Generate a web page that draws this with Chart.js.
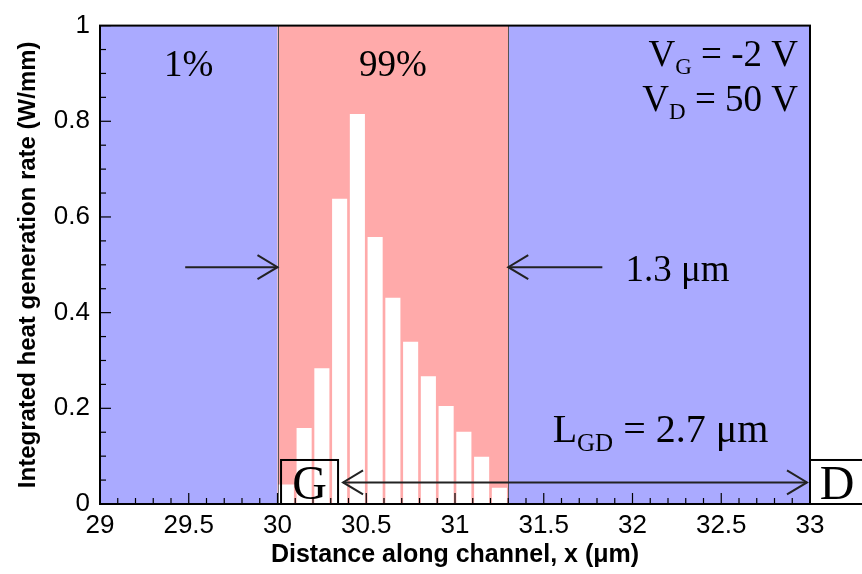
<!DOCTYPE html>
<html>
<head>
<meta charset="utf-8">
<script src="https://cdn.jsdelivr.net/npm/chart.js@4.4.1/dist/chart.umd.min.js"></script>
<style>
    html, body { margin: 0; padding: 0; background: #fff; }
    #wrap { width: 862px; height: 574px; }
</style>
</head>
<body>
<div id="wrap"><canvas id="heat-chart"></canvas></div>
<script>
// === Data ===
// bin centres along the channel (um) and integrated heat per bin (W/mm)
const binCenters = [30.05, 30.15, 30.25, 30.35, 30.45, 30.55, 30.65, 30.75, 30.85, 30.95, 31.05, 31.15, 31.25];
const heatRate = [0.041, 0.159, 0.284, 0.638, 0.815, 0.558, 0.431, 0.339, 0.267, 0.205, 0.151, 0.099, 0.034];

const xTicks = [29, 29.5, 30, 30.5, 31, 31.5, 32, 32.5, 33];
const yTicks = [0, 0.2, 0.4, 0.6, 0.8, 1];

// shaded zones and the share of heat in each
const zoneStart = [29, 30, 31.3];
const zoneEnd = [30, 31.3, 33];
const zoneShare = ["1%", "99%", ""];

const SANS = "'Liberation Sans Narrow', 'Arial Narrow', 'Liberation Sans', Arial, sans-serif";
const SERIF = "'Liberation Serif', 'Times New Roman', serif";
const ZONE_COLORS = ["#aaaaff", "#ffaaaa", "#aaaaff"];

// === Helpers ===
function arrowHead(ctx, x, y, dir) {
    // open V head, dir = +1 points right, -1 points left
    ctx.beginPath();
    ctx.moveTo(x - dir * 20, y - 12);
    ctx.lineTo(x, y);
    ctx.lineTo(x - dir * 20, y + 12);
    ctx.stroke();
}

function arrow(ctx, x0, x1, y) {
    ctx.beginPath();
    ctx.moveTo(x0, y);
    ctx.lineTo(x1, y);
    ctx.stroke();
    arrowHead(ctx, x1, y, x1 > x0 ? 1 : -1);
}

// text with a subscript part: [main, sub, rest]
function subText(ctx, parts, x, y, size, align) {
    const big = `${size}px ${SERIF}`;
    const small = `${Math.round(size * 0.62)}px ${SERIF}`;
    ctx.font = big;
    const w0 = ctx.measureText(parts[0]).width;
    const w2 = ctx.measureText(parts[2]).width;
    ctx.font = small;
    const w1 = ctx.measureText(parts[1]).width;
    let left = align === "right" ? x - (w0 + w1 + w2) : x;
    ctx.textAlign = "left";
    ctx.textBaseline = "alphabetic";
    ctx.font = big;
    ctx.fillText(parts[0], left, y);
    ctx.font = small;
    ctx.fillText(parts[1], left + w0, y + size * 0.22);
    ctx.font = big;
    ctx.fillText(parts[2], left + w0 + w1, y);
}

// === Plugins ===
const zonePlugin = {
    id: "zones",
    beforeDatasetsDraw(chart) {
        const { ctx, chartArea: a, scales: { x } } = chart;
        ctx.save();
        zoneStart.forEach((s, i) => {
            const x0 = x.getPixelForValue(s);
            const x1 = x.getPixelForValue(zoneEnd[i]);
            ctx.fillStyle = ZONE_COLORS[i];
            ctx.fillRect(x0, a.top, x1 - x0, a.bottom - a.top);
        });
        ctx.strokeStyle = "#555";
        ctx.lineWidth = 1;
        zoneEnd.slice(0, 2).forEach(v => {
            const px = Math.round(x.getPixelForValue(v)) + 0.5;
            ctx.beginPath();
            ctx.moveTo(px, a.top);
            ctx.lineTo(px, a.bottom);
            ctx.stroke();
        });
        ctx.restore();
    },
};

const framePlugin = {
    id: "frame",
    afterDatasetsDraw(chart) {
        const { ctx, chartArea: a, scales: { x, y } } = chart;
        ctx.save();
        ctx.strokeStyle = "#000";
        ctx.lineWidth = 1.2;

        // inward ticks, minor every 0.1 on x and 0.05 on y
        for (let v = 29; v <= 33.001; v += 0.1) {
            const px = x.getPixelForValue(v);
            const major = Math.abs(v * 2 - Math.round(v * 2)) < 1e-6;
            ctx.beginPath();
            ctx.moveTo(px, a.bottom);
            ctx.lineTo(px, a.bottom - (major ? 11 : 6));
            ctx.stroke();
        }
        for (let v = 0; v <= 1.001; v += 0.05) {
            const py = y.getPixelForValue(v);
            const major = Math.abs(v * 5 - Math.round(v * 5)) < 1e-6;
            ctx.beginPath();
            ctx.moveTo(a.left, py);
            ctx.lineTo(a.left + (major ? 11 : 6), py);
            ctx.stroke();
        }

        ctx.lineWidth = 2;
        ctx.strokeRect(a.left, a.top, a.right - a.left, a.bottom - a.top);
        ctx.restore();
    },
    afterDraw(chart) {
        const { ctx, chartArea: a, scales: { x, y } } = chart;
        ctx.save();
        ctx.fillStyle = "#000";
        ctx.strokeStyle = "#222";
        ctx.lineWidth = 2;

        // zone shares
        ctx.font = `37px ${SERIF}`;
        ctx.textAlign = "center";
        ctx.textBaseline = "alphabetic";
        zoneShare.forEach((t, i) => {
            if (!t) return;
            ctx.fillText(t, x.getPixelForValue((zoneStart[i] + zoneEnd[i]) / 2), a.top + 50);
        });

        // bias conditions
        subText(ctx, ["V", "G", " = -2 V"], a.right - 12, a.top + 40, 37, "right");
        subText(ctx, ["V", "D", " = 50 V"], a.right - 12, a.top + 85, 37, "right");

        // width of the hot zone
        const yMid = y.getPixelForValue(0.495);
        arrow(ctx, x.getPixelForValue(29.48), x.getPixelForValue(30), yMid);
        arrow(ctx, x.getPixelForValue(31.83), x.getPixelForValue(31.3), yMid);
        ctx.font = `37px ${SERIF}`;
        ctx.textAlign = "left";
        ctx.fillText("1.3 \u03bcm", x.getPixelForValue(31.96), yMid + 14);

        // gate-drain spacing
        subText(ctx, ["L", "GD", " = 2.7 \u03bcm"], x.getPixelForValue(31.55), y.getPixelForValue(0.13), 40, "left");

        const gx = x.getPixelForValue(30.02);
        const dx = x.getPixelForValue(33);
        const boxTop = y.getPixelForValue(0.092);
        const boxH = a.bottom - boxTop;
        const yArr = y.getPixelForValue(0.045);

        ctx.fillStyle = "#fff";
        ctx.fillRect(dx, boxTop, 60, boxH);
        ctx.strokeStyle = "#000";
        ctx.strokeRect(gx, boxTop, 57, boxH);
        ctx.strokeRect(dx, boxTop, 60, boxH);

        ctx.strokeStyle = "#222";
        const ax0 = gx + 62, ax1 = dx - 3;
        ctx.beginPath();
        ctx.moveTo(ax0, yArr);
        ctx.lineTo(ax1, yArr);
        ctx.stroke();
        arrowHead(ctx, ax0, yArr, -1);
        arrowHead(ctx, ax1, yArr, 1);

        ctx.fillStyle = "#000";
        ctx.font = `48px ${SERIF}`;
        ctx.textAlign = "center";
        ctx.fillText("G", gx + 28.5, a.bottom - 5);
        ctx.fillText("D", dx + 27, a.bottom - 5);
        ctx.restore();
    },
};

// === Chart ===
new Chart(document.getElementById("heat-chart"), {
    type: "bar",
    data: {
        datasets: [{
            data: binCenters.map((c, i) => ({ x: c, y: heatRate[i] })),
            backgroundColor: "#ffffff",
            borderWidth: 0,
            barPercentage: 0.85,
            categoryPercentage: 1,
        }],
    },
    plugins: [zonePlugin, framePlugin],
    options: {
        responsive: true,
        maintainAspectRatio: false,
        animation: false,
        layout: { padding: { top: 18, right: 52, left: 0, bottom: 0 } },
        plugins: { legend: { display: false }, tooltip: { enabled: false } },
        scales: {
            x: {
                type: "linear",
                min: 29,
                max: 33,
                offset: false,
                afterBuildTicks: s => { s.ticks = xTicks.map(v => ({ value: v })); },
                afterFit: s => { s.height = 70; },
                grid: { display: false, drawTicks: false },
                border: { display: false },
                ticks: {
                    color: "#000",
                    padding: 6,
                    maxRotation: 0,
                    callback: v => String(v),
                    font: { family: SANS, size: 26 },
                },
                title: {
                    display: true,
                    text: "Distance along channel, x (\u03bcm)",
                    color: "#000",
                    padding: { top: 0, bottom: 4 },
                    font: { family: SANS, size: 25, weight: "bold" },
                },
            },
            y: {
                min: 0,
                max: 1,
                afterBuildTicks: s => { s.ticks = yTicks.map(v => ({ value: v })); },
                afterFit: s => { s.width = 100; },
                grid: { display: false, drawTicks: false },
                border: { display: false },
                ticks: {
                    color: "#000",
                    padding: 10,
                    callback: v => String(v),
                    font: { family: SANS, size: 26 },
                },
                title: {
                    display: true,
                    text: "Integrated heat generation rate (W/mm)",
                    color: "#000",
                    padding: { top: 14, bottom: 4 },
                    font: { family: SANS, size: 24, weight: "bold" },
                },
            },
        },
    },
});
</script>
</body>
</html>
